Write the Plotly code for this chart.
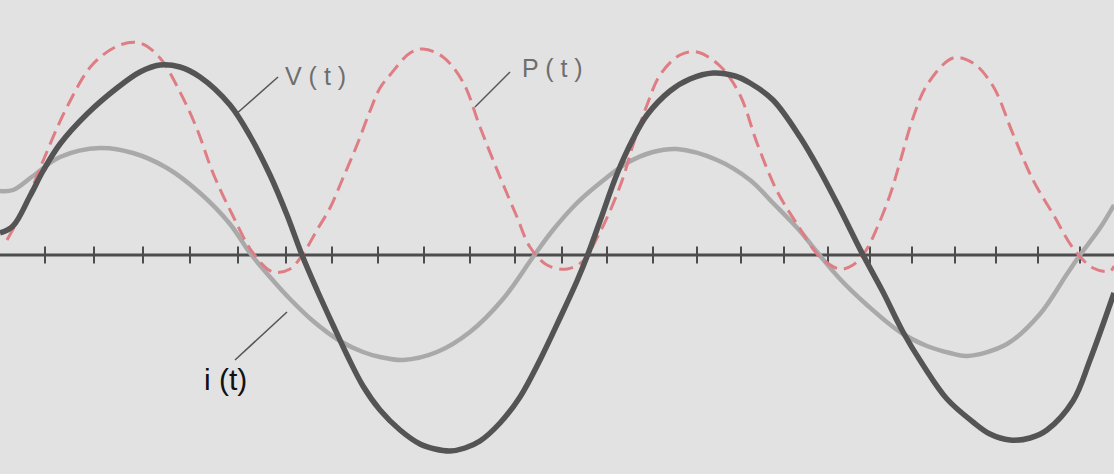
import plotly.graph_objects as go

# time positions (arbitrary units along the axis) and values
v_t = [0, 13, 30, 43, 60, 87, 117, 140, 160, 180, 200, 230, 250, 270, 287, 302, 317, 333, 347, 363,
       380, 400, 420, 435, 450, 465, 480, 500, 520, 540, 560, 577, 588, 600, 617, 633, 647, 670, 690,
       713, 735, 750, 773, 800, 820, 840, 862, 883, 903, 923, 947, 973, 990, 1010, 1030, 1047, 1073,
       1090, 1114]
v_val = [22, 29, 59, 84, 111, 141, 167, 183, 190, 188, 178, 150, 119, 80, 40, 0, -35, -70, -100, -131,
         -155, -175, -189, -194, -196, -193, -186, -168, -142, -105, -63, -26, 1, 34, 81, 116, 140, 164, 176,
         182, 179, 172, 155, 118, 84, 46, 2, -37, -77, -110, -144, -167, -179, -185, -183, -175, -146,
         -105, -38]

i_t = [0, 13, 33, 60, 100, 133, 167, 200, 230, 250, 270, 290, 313, 340, 363, 380, 403, 437, 470,
       503, 533, 553, 577, 600, 627, 653, 677, 717, 750, 773, 800, 817, 840, 867, 900, 927, 950,
       967, 1007, 1040, 1067, 1080, 1100, 1114]
i_val = [64, 65, 79, 98, 107, 102, 87, 62, 31, 2, -22, -44, -66, -86, -97, -102, -105, -97, -77,
         -44, -2, 25, 52, 72, 92, 103, 106, 95, 75, 52, 24, 3, -24, -50, -77, -91, -98,
         -101, -89, -59, -19, 0, 27, 50]

p_t = [7, 23, 43, 67, 93, 120, 140, 160, 180, 197, 213, 233, 253, 273, 290, 303, 317, 330, 343,
       357, 370, 380, 390, 410, 423, 443, 463, 480, 500, 517, 530, 547, 567, 583, 597, 610, 623,
       633, 647, 660, 680, 697, 720, 740, 757, 777, 797, 820, 840, 853, 865, 877, 890, 900, 913,
       927, 953, 973, 993, 1013, 1033, 1053, 1073, 1093, 1110, 1114]
p_val = [15, 45, 94, 148, 191, 210, 212, 197, 163, 126, 82, 39, 2, -17, -14, 1, 25, 47, 77,
         110, 144, 167, 180, 202, 206, 198, 173, 128, 78, 38, 8, -10, -14, -6, 17, 44, 77,
         110, 150, 180, 200, 203, 189, 160, 112, 64, 31, -2, -14, -10, 3, 27, 60, 93, 137,
         170, 197, 192, 169, 121, 75, 41, 7, -13, -16, -11]

tick_t = [45, 94, 143, 190, 238, 286, 332, 378, 424, 470, 515, 562, 607, 653, 697, 741, 784, 828,
          870, 912, 955, 996, 1038, 1080]

BG = "#e2e2e2"
fig = go.Figure()

# time axis
fig.add_trace(go.Scatter(x=[0, 1114], y=[0, 0], mode="lines",
                         line=dict(color="#4d4d4d", width=3), hoverinfo="skip"))
fig.add_trace(go.Scatter(x=tick_t, y=[0] * len(tick_t), mode="markers",
                         marker=dict(symbol="line-ns", size=12,
                                     line=dict(color="#4d4d4d", width=2)),
                         hoverinfo="skip"))

fig.add_trace(go.Scatter(x=i_t, y=i_val, mode="lines", name="i(t)",
                         line=dict(color="#a9a9a9", width=4.5, shape="spline", smoothing=1.0)))
fig.add_trace(go.Scatter(x=p_t, y=p_val, mode="lines", name="P(t)",
                         line=dict(color="#df7d84", width=3, dash="14px,7px",
                                   shape="spline", smoothing=1.0)))
fig.add_trace(go.Scatter(x=v_t, y=v_val, mode="lines", name="V(t)",
                         line=dict(color="#545454", width=5.5, shape="spline", smoothing=1.0)))

# leader lines
leaders = [((235, 140), (278, 178)),   # V(t)
           ((475, 148), (510, 183)),   # P(t)
           ((235, -105), (287, -57))]  # i(t)
for (x0, y0), (x1, y1) in leaders:
    fig.add_shape(type="line", x0=x0, y0=y0, x1=x1, y1=y1,
                  line=dict(color="#555555", width=1.5))

fig.add_annotation(x=315, y=179, text="V ( t )", showarrow=False,
                   font=dict(family="Liberation Sans, Arial", size=25, color="#6e6e6e"))
fig.add_annotation(x=552, y=187, text="P ( t )", showarrow=False,
                   font=dict(family="Liberation Sans, Arial", size=25, color="#6e6e6e"))
fig.add_annotation(x=225, y=-124, text="i (t)", showarrow=False,
                   font=dict(family="Liberation Sans, Arial", size=30, color="#111111"))

fig.update_layout(
    width=1114, height=474,
    margin=dict(l=0, r=0, t=0, b=0),
    paper_bgcolor=BG, plot_bgcolor=BG,
    showlegend=False,
    xaxis=dict(range=[0, 1114], visible=False, fixedrange=True),
    yaxis=dict(range=[-219, 255], visible=False, fixedrange=True),
)

fig.write_html("out.html", config={"displayModeBar": False},
               post_script="document.body.style.margin='0';document.body.style.background='#e2e2e2';")
